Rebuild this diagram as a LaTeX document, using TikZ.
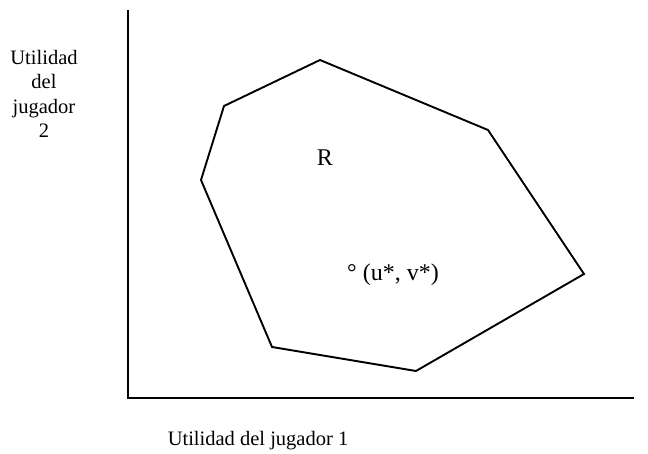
\documentclass[tikz,border=0pt]{standalone}
\usepackage{fontspec}
\setmainfont{Liberation Serif}
\usetikzlibrary{positioning}

\begin{document}
\begin{tikzpicture}[
      x=1pt, y=-1pt,
      eje/.style={line width=2pt},
      region/.style={line width=1.9pt, line join=miter},
      etiqueta/.style={font=\fontsize{20.5}{24.5}\selectfont, align=center, inner sep=0pt},
      grande/.style={font=\fontsize{24}{28}\selectfont, inner sep=0pt}
  ]
      \useasboundingbox (0,0) rectangle (648,454);

      % Ejes
      \coordinate (origen) at (128,398);
      \coordinate (ytop) at (128,10);
      \coordinate (xfin) at (634,398);
      \draw[eje] (ytop) -- (origen) -- (xfin);

      % Vertices de la region R
      \coordinate (p1) at (320,60);
      \coordinate (p2) at (488,130);
      \coordinate (p3) at (584,274);
      \coordinate (p4) at (416,371);
      \coordinate (p5) at (272,347);
      \coordinate (p6) at (201,180);
      \coordinate (p7) at (224,106);
      \draw[region] (p1) -- (p2) -- (p3) -- (p4) -- (p5) -- (p6) -- (p7) -- cycle;

      % Etiquetas
      \node[grande] (r) at (325,158) {R};
      \node[grande] (punto) at (393,275) {° (u*, v*)};
      \node[etiqueta] (ylab) at (44,94) {Utilidad\\del\\jugador\\2};
      \node[etiqueta] (xlab) at (258,441) {Utilidad del jugador 1};

  \end{tikzpicture}
\end{document}
